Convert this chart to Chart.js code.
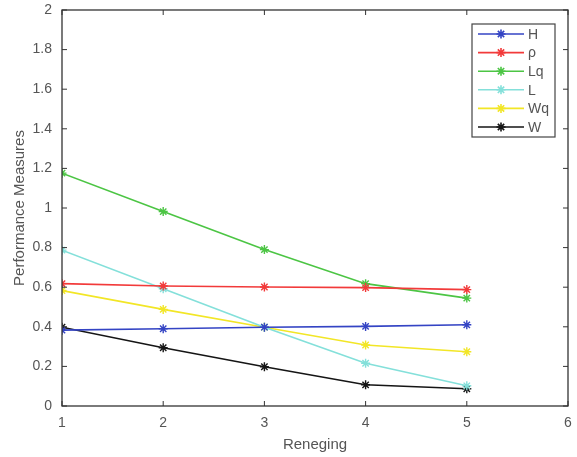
<!DOCTYPE html>
<html>
<head>
<meta charset="utf-8">
<script src="https://cdn.jsdelivr.net/npm/chart.js@4/dist/chart.umd.min.js"></script>
<style>
  html, body { margin: 0; padding: 0; background: #fff; }
  #wrap { width: 577px; height: 457px; }
</style>
</head>
<body>
<div id="wrap"><canvas id="chart"></canvas></div>
<script>
// data
const reneging = [1, 2, 3, 4, 5];
const seriesNames = ['H', 'ρ', 'Lq', 'L', 'Wq', 'W'];
const H  = [0.383, 0.390, 0.398, 0.402, 0.410];
const rho = [0.618, 0.606, 0.601, 0.598, 0.588];
const Lq = [1.176, 0.982, 0.790, 0.618, 0.545];
const L  = [0.787, 0.592, 0.398, 0.216, 0.102];
const Wq = [0.583, 0.488, 0.398, 0.308, 0.274];
const W  = [0.398, 0.294, 0.198, 0.107, 0.087];
const yTicks = [0, 0.2, 0.4, 0.6, 0.8, 1, 1.2, 1.4, 1.6, 1.8, 2];
const xTicks = [1, 2, 3, 4, 5, 6];

const colors = ['#3444c4', '#f23a3a', '#4cc544', '#84e0da', '#f2e626', '#151515'];
const allValues = [H, rho, Lq, L, Wq, W];
const FONT = '"Liberation Sans", Arial, sans-serif';

const datasets = allValues.map((vals, i) => ({
    label: seriesNames[i],
    data: reneging.map((x, j) => ({ x: x, y: vals[j] })),
    borderColor: colors[i],
    backgroundColor: colors[i],
    borderWidth: 1.6,
    pointStyle: 'star',
    pointRadius: 4.5,
    pointBorderWidth: 1.4,
    tension: 0
}));

// MATLAB style frame, inward ticks and boxed legend
const matlabFrame = {
    id: 'matlabFrame',
    afterDraw(chart) {
        const ctx = chart.ctx;
        const a = chart.chartArea;
        const xs = chart.scales.x, ys = chart.scales.y;
        ctx.save();
        ctx.strokeStyle = '#333';
        ctx.lineWidth = 1.3;
        ctx.strokeRect(a.left, a.top, a.right - a.left, a.bottom - a.top);
        ctx.lineWidth = 1;
        xTicks.forEach(v => {
            const px = xs.getPixelForValue(v);
            ctx.beginPath();
            ctx.moveTo(px, a.bottom); ctx.lineTo(px, a.bottom - 5);
            ctx.moveTo(px, a.top); ctx.lineTo(px, a.top + 5);
            ctx.stroke();
        });
        yTicks.forEach(v => {
            const py = ys.getPixelForValue(v);
            ctx.beginPath();
            ctx.moveTo(a.left, py); ctx.lineTo(a.left + 5, py);
            ctx.moveTo(a.right, py); ctx.lineTo(a.right - 5, py);
            ctx.stroke();
        });

        // legend
        const lx = 472, ly = 24, lw = 83, lh = 113;
        ctx.fillStyle = '#fff';
        ctx.fillRect(lx, ly, lw, lh);
        ctx.strokeStyle = '#444';
        ctx.lineWidth = 1.2;
        ctx.strokeRect(lx, ly, lw, lh);
        ctx.font = '14px ' + FONT;
        ctx.textBaseline = 'middle';
        chart.data.datasets.forEach((ds, i) => {
            const y = ly + 10 + i * 18.6;
            ctx.strokeStyle = ds.borderColor;
            ctx.lineWidth = 1.6;
            ctx.beginPath();
            ctx.moveTo(lx + 6, y); ctx.lineTo(lx + 52, y);
            ctx.stroke();
            Chart.helpers.drawPoint(ctx, { pointStyle: 'star', radius: 4.5, borderWidth: 1.4 }, lx + 29, y);
            ctx.fillStyle = '#555';
            ctx.fillText(ds.label, lx + 56, y + 1);
        });
        ctx.restore();
    }
};

new Chart(document.getElementById('chart'), {
    type: 'line',
    data: { datasets: datasets },
    options: {
        responsive: true,
        maintainAspectRatio: false,
        animation: false,
        layout: { padding: { top: 10, right: 9, left: 0, bottom: 0 } },
        plugins: { legend: { display: false }, tooltip: { enabled: false } },
        scales: {
            x: {
                type: 'linear',
                min: 1, max: 6,
                afterBuildTicks: s => { s.ticks = xTicks.map(v => ({ value: v })); },
                afterFit: s => { s.height = 51; s.paddingLeft = 0; s.paddingRight = 0; },
                grid: { display: false, drawTicks: false },
                border: { display: false },
                ticks: { color: '#555', font: { size: 14, family: FONT }, padding: 9, maxRotation: 0 },
                title: { display: true, text: 'Reneging', color: '#555', font: { size: 15, family: FONT }, padding: { top: 2, bottom: 3 } }
            },
            y: {
                min: 0, max: 2,
                afterBuildTicks: s => { s.ticks = yTicks.map(v => ({ value: v })); },
                afterFit: s => { s.width = 62; s.paddingTop = 0; s.paddingBottom = 0; },
                grid: { display: false, drawTicks: false },
                border: { display: false },
                ticks: {
                    color: '#555', font: { size: 14, family: FONT }, padding: 10,
                    callback: v => String(Math.round(v * 10) / 10)
                },
                title: { display: true, text: 'Performance Measures', color: '#555', font: { size: 15, family: FONT }, padding: { top: 11, bottom: 2 } }
            }
        }
    },
    plugins: [matlabFrame]
});
</script>
</body>
</html>
